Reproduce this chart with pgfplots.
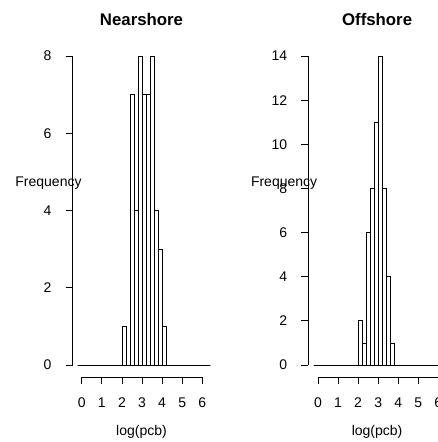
\documentclass[border=0pt]{standalone}
\usepackage{fontspec}
\setmainfont{Liberation Sans}
\usepackage{pgfplots}
\pgfplotsset{compat=1.18}

% Base-graphics style histogram panel: open bars, detached axis lines
\pgfplotsset{
  rhist/.style={
    scale only axis,
    anchor=south west,
    width=137.6pt, height=333.8pt,
    clip=false,
    axis x line*=bottom, axis y line*=left,
    axis line style={draw=none},
    tick align=outside,
    major tick length=7pt,
    tick style={black, line width=0.8pt},
    xtick={0,1,2,3,4,5,6},
    font=\fontsize{14}{16.8}\selectfont,
    /pgf/number format/assume math mode=true,
    ticklabel style={font=\fontsize{14}{16.8}\selectfont},
    xticklabel style={anchor=base, inner sep=0pt, yshift=-23pt},
    yticklabel style={anchor=east, inner sep=0pt, xshift=-14pt},
    xlabel={log(pcb)},
    ylabel={Frequency},
    every axis x label/.style={at={(axis description cs:0.5,-0.1726)}, anchor=base},
    every axis y label/.style={at={(axis description cs:-0.176,0.5713)}, anchor=base},
    every axis title/.style={at={(axis description cs:0.5,1.0557)}, anchor=base,
      font=\fontsize{16.8}{20}\selectfont\bfseries},
  },
  rbars/.style={ybar, bar width=0.2, bar shift=0pt, draw=black, fill=none, line width=0.8pt},
}

\begin{document}
\begin{tikzpicture}

% Nearshore: bins of width 0.2 from -0.2 to 6.4, at their centres
\begin{axis}[rhist, at={(72.7pt,64.6pt)},
  title={Nearshore},
  xmin=-0.448, xmax=6.398, ymin=-0.32, ymax=8.32,
  ytick={0,2,4,6,8}]
\addplot[rbars] coordinates {
  (-0.1,0) (0.1,0) (0.3,0) (0.5,0) (0.7,0) (0.9,0) (1.1,0) (1.3,0) (1.5,0)
  (1.7,0) (1.9,0) (2.1,1) (2.3,0) (2.5,7) (2.7,4) (2.9,8) (3.1,7) (3.3,7)
  (3.5,8) (3.7,4) (3.9,3) (4.1,1) (4.3,0) (4.5,0) (4.7,0) (4.9,0) (5.1,0)
  (5.3,0) (5.5,0) (5.7,0) (5.9,0) (6.1,0) (6.3,0)
};
\draw[line width=0.8pt] (axis cs:0,-0.32) -- (axis cs:6,-0.32);
\draw[line width=0.8pt] (axis cs:-0.448,0) -- (axis cs:-0.448,8);
\end{axis}

% Offshore
\begin{axis}[rhist, at={(308.3pt,64.6pt)},
  title={Offshore},
  xmin=-0.484, xmax=6.379, ymin=-0.56, ymax=14.56,
  ytick={0,2,4,6,8,10,12,14}]
\addplot[rbars] coordinates {
  (-0.1,0) (0.1,0) (0.3,0) (0.5,0) (0.7,0) (0.9,0) (1.1,0) (1.3,0) (1.5,0)
  (1.7,0) (1.9,0) (2.1,2) (2.3,1) (2.5,6) (2.7,8) (2.9,11) (3.1,14) (3.3,8)
  (3.5,4) (3.7,1) (3.9,0) (4.1,0) (4.3,0) (4.5,0) (4.7,0) (4.9,0) (5.1,0)
  (5.3,0) (5.5,0) (5.7,0) (5.9,0) (6.1,0) (6.3,0)
};
\draw[line width=0.8pt] (axis cs:0,-0.56) -- (axis cs:6,-0.56);
\draw[line width=0.8pt] (axis cs:-0.484,0) -- (axis cs:-0.484,14);
\end{axis}

% fixed page: the right panel runs past the right edge
\pgfresetboundingbox
\path[use as bounding box] (0,0) rectangle (437pt,442pt);
\end{tikzpicture}
\end{document}
